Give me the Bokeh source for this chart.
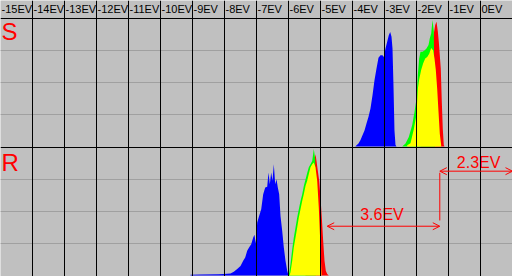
import numpy as np
from bokeh.plotting import figure
from bokeh.models import Range1d, Span, Arrow, OpenHead, ColumnDataSource
from bokeh.core.properties import value
from bokeh.embed import file_html
from bokeh.resources import INLINE

# ---- column labels (EV scale) ----
ev_ticks = [-15, -14, -13, -12, -11, -10, -9, -8, -7, -6, -5, -4, -3, -2, -1, 0]
ev_labels = ["-15EV", "-14EV", "-13EV", "-12EV", "-11EV", "-10EV", "-9EV", "-8EV",
             "-7EV", "-6EV", "-5EV", "-4EV", "-3EV", "-2EV", "-1EV", "0EV"]
panel_names = ["S", "R"]

# ---- S panel histograms (EV, height in grid divisions) ----
s_blue_ev = [-3.906, -3.813, -3.75, -3.688, -3.625, -3.563, -3.5, -3.438, -3.375, -3.313,
             -3.25, -3.188, -3.125, -3.063, -3.022, -2.969, -2.916, -2.866, -2.822, -2.781,
             -2.75, -2.719, -2.688, -2.656, -2.625]
s_blue_h = [0.01, 0.09, 0.2, 0.35, 0.5, 0.72, 0.93, 1.19, 1.6, 2.07,
            2.44, 2.77, 2.85, 2.85, 2.8, 3.06, 3.27, 3.48, 3.58, 3.43,
            3.06, 1.9, 0.5, 0.05, 0.0]

s_green_ev = [-2.447, -2.344, -2.241, -2.134, -2.063, -2.0, -1.959, -1.916, -1.875, -1.813,
              -1.75, -1.688, -1.625, -1.584, -1.541, -1.5, -1.459, -1.422]
s_green_h = [0.0, 0.09, 0.3, 0.67, 1.08, 1.5, 2.23, 2.75, 2.96, 2.96,
             3.0, 3.06, 3.17, 3.38, 3.53, 3.95, 3.6, 0.0]

s_yellow_ev = [-2.291, -2.188, -2.084, -2.0, -1.959, -1.916, -1.853, -1.791, -1.728, -1.666,
               -1.603, -1.541, -1.478, -1.438, -1.397, -1.353, -1.313, -1.272, -1.228]
s_yellow_h = [0.04, 0.1, 0.54, 1.0, 1.8, 2.1, 2.4, 2.6, 2.75, 2.8,
              2.9, 3.08, 3.0, 2.75, 2.4, 1.8, 1.1, 0.4, 0.03]

s_red_ev = [-1.875, -1.563, -1.459, -1.416, -1.375, -1.334, -1.303, -1.272, -1.241, -1.209,
            -1.178, -1.147, -1.125]
s_red_h = [2.0, 3.0, 3.53, 3.8, 3.9, 3.6, 3.27, 2.85, 2.44, 1.4,
           0.55, 0.05, 0.0]

# ---- R panel histograms ----
r_blue_ev = [-9.06, -8.75, -8.188, -8.022, -7.813, -7.709, -7.603, -7.5, -7.416,
             -7.353, -7.291, -7.228, -7.166, -7.103, -7.063, -7.022, -6.978, -6.916, -6.853,
             -6.791, -6.728, -6.666, -6.625, -6.584, -6.541, -6.5, -6.459, -6.416, -6.375,
             -6.334, -6.291, -6.25, -6.197, -6.147, -6.094, -6.041, -6.0]
r_blue_h = [0.02, 0.03, 0.04, 0.05, 0.06, 0.12, 0.2, 0.3, 0.46,
            0.56, 0.77, 0.88, 0.98, 1.19, 1.27, 1.0, 1.66, 1.87, 2.07,
            2.54, 2.75, 2.77, 3.22, 2.85, 3.22, 2.96, 3.48, 2.85, 3.01,
            2.75, 2.54, 1.86, 1.4, 0.88, 0.46, 0.15, 0.0]

r_green_ev = [-5.991, -5.938, -5.884, -5.834, -5.781, -5.728, -5.678, -5.625, -5.572, -5.522,
              -5.469, -5.416, -5.366, -5.313, -5.259, -5.209, -5.166, -5.147]
r_green_h = [0.0, 0.35, 0.82, 1.19, 1.5, 1.81, 2.07, 2.33, 2.54, 2.8,
             3.0, 3.2, 3.38, 3.48, 3.58, 3.95, 3.64, 0.0]

r_yellow_ev = [-5.969, -5.938, -5.884, -5.834, -5.781, -5.728, -5.678, -5.625, -5.572, -5.522,
               -5.469, -5.416, -5.366, -5.313, -5.259, -5.209, -5.156, -5.103, -5.053, -5.0,
               -4.969]
r_yellow_h = [0.0, 0.1, 0.46, 0.88, 1.19, 1.5, 1.81, 2.07, 2.33, 2.54,
              2.8, 2.96, 3.17, 3.38, 3.48, 3.53, 3.38, 2.96, 2.12, 0.88,
              0.0]

r_red_ev = [-5.469, -5.209, -5.156, -5.125, -5.084, -5.041, -5.0, -4.959, -4.916, -4.875,
            -4.834, -4.791, -4.741]
r_red_h = [2.5, 3.5, 3.79, 3.58, 3.27, 2.96, 2.44, 1.81, 1.08, 0.46,
           0.15, 0.05, 0.0]

# ---- annotations ----
diff_labels = ["3.6EV", "2.3EV"]
diff_from = [-4.791, -1.272]
diff_to = [-1.272, 1.0]
diff_level = [1.54, 3.26]
diff_text_x = [-3.08, -0.06]
diff_text_y = [1.91, 3.54]
marker_ev = -1.272
marker_span = [1.72, 3.21]

# ---- layout (grid divisions, 32 px each) ----
PX = 1 / 32
R_BASE = 0.0
S_BASE = 4.0 + PX
PANEL_H = 4
HEADER_LINE = S_BASE + PANEL_H

p = figure(width=512, height=276, x_range=Range1d(-15, 1),
           y_range=Range1d(-PX, 276 * PX - PX),
           output_backend="svg", toolbar_location=None, min_border=0)
p.axis.visible = False
p.xgrid.visible = False
p.ygrid.visible = False
p.outline_line_color = None
p.background_fill_color = "#C0C0C0"
p.border_fill_color = "#C0C0C0"

# dotted horizontal grid (under the histograms)
for base in (R_BASE, S_BASE):
    for k in range(1, PANEL_H):
        p.add_layout(Span(location=base + k, dimension="width", line_color="#808080",
                          line_width=1, line_dash="1 1", level="underlay"))


def area(ev, h, base, color):
    ev = np.asarray(ev, dtype=float)
    h = np.asarray(h, dtype=float)
    p.varea(x=ev, y1=np.full_like(h, base), y2=base + h, fill_color=color)


area(s_blue_ev, s_blue_h, S_BASE, "#0000FF")
area(s_red_ev, s_red_h, S_BASE, "#FF0000")
area(s_green_ev, s_green_h, S_BASE, "#00FF00")
area(s_yellow_ev, s_yellow_h, S_BASE, "#FFFF00")

area(r_blue_ev, r_blue_h, R_BASE, "#0000FF")
area(r_red_ev, r_red_h, R_BASE, "#FF0000")
area(r_green_ev, r_green_h, R_BASE, "#00FF00")
area(r_yellow_ev, r_yellow_h, R_BASE, "#FFFF00")

# black column lines and panel separators (above)
for ev in ev_ticks[1:]:
    p.add_layout(Span(location=ev, dimension="height", line_color="black", line_width=1))
for loc in (HEADER_LINE, R_BASE + PANEL_H):
    p.add_layout(Span(location=loc, dimension="width", line_color="black", line_width=1))

# header labels
hdr = ColumnDataSource(dict(x=ev_ticks, y=[HEADER_LINE + 0.30] * len(ev_ticks), t=ev_labels))
p.text(x="x", y="y", text="t", source=hdr, x_offset=1, text_font=value("Liberation Sans"),
       text_font_size="11px", text_color="black", text_baseline="alphabetic", text_align="left")

# panel names
pn = ColumnDataSource(dict(x=[-15, -15], y=[S_BASE + 3.58, R_BASE + 3.53], t=panel_names))
p.text(x="x", y="y", text="t", source=pn, x_offset=1, text_font=value("Liberation Sans"),
       text_font_size="24px", text_color="#FF0000", text_baseline="alphabetic", text_align="left")

# EV difference arrows
for x0, x1, yl in zip(diff_from, diff_to, diff_level):
    p.add_layout(Arrow(start=OpenHead(size=7, line_color="#FF0000", line_width=1),
                       end=OpenHead(size=7, line_color="#FF0000", line_width=1),
                       x_start=x0, y_start=yl, x_end=x1, y_end=yl,
                       line_color="#FF0000", line_width=1))
p.segment(x0=[marker_ev], y0=[marker_span[0]], x1=[marker_ev], y1=[marker_span[1]],
          line_color="#FF0000", line_width=1)
dl = ColumnDataSource(dict(x=diff_text_x, y=diff_text_y, t=diff_labels))
p.text(x="x", y="y", text="t", source=dl, text_font=value("Liberation Sans"),
       text_font_size="16px", text_color="#FF0000", text_baseline="alphabetic", text_align="center")

open("out.html", "w").write(file_html(p, INLINE))
